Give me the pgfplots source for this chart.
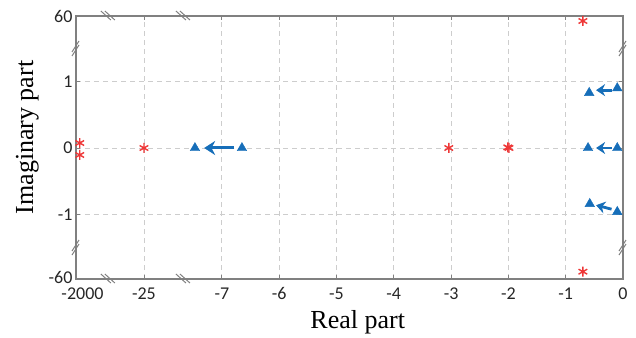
\documentclass[border=0pt]{standalone}
\usepackage{pgfplots}
\pgfplotsset{compat=1.18}
\usepackage{fontspec}
\setmainfont{Liberation Serif}
\newfontfamily\tickfont{Carlito}
\usetikzlibrary{arrows.meta}
\definecolor{myblue}{RGB}{22,110,185}
\definecolor{myred}{RGB}{238,55,55}
\definecolor{axgray}{RGB}{128,128,128}
\definecolor{gridgray}{RGB}{205,205,205}
\begin{document}
\begin{tikzpicture}
\begin{axis}[
  at={(0,0)}, anchor=south west,
  scale only axis, width=547pt, height=263pt,
  xmin=-9.546, xmax=0, ymin=-1.97, ymax=1.985,
  xtick={-9.546,-8.36,-7,-6,-5,-4,-3,-2,-1,0},
  xticklabels={\hspace*{13pt}-2000,-25,-7,-6,-5,-4,-3,-2,-1,0},
  ytick={-1.97,-1,0,1,1.985},
  yticklabels={\raisebox{3pt}{-60},-1,0,1,60},
  grid=major,
  major grid style={gridgray, dash pattern=on 5pt off 4pt, line width=0.8pt},
  axis line style={axgray, line width=1.3pt},
  tick style={axgray, line width=0.8pt}, major tick length=4pt,
  tick align=inside,
  ticklabel style={font=\tickfont\fontsize{18}{18}\selectfont, text=black!85},
  xticklabel style={yshift=-5pt},
  xlabel={Real part}, ylabel={Imaginary part},
  label style={font=\fontsize{26}{26}\selectfont},
  xlabel style={at={(axis description cs:0.515,0)}, anchor=base, yshift=-49pt},
  ylabel style={at={(axis description cs:-0.0786,0.538)}, anchor=base},
  clip=false,
]
% poles (red asterisks)
\addplot[only marks, mark=asterisk, mark size=5pt, myred, line width=1.4pt]
  coordinates {(-9.48,0.075) (-9.48,-0.105) (-8.36,0) (-3.04,0) (-1.99,0) (-2.01,0.01) (-0.70,1.91) (-0.70,-1.86)};
% triangles (blue)
\addplot[only marks, mark=triangle*, mark size=5.5pt, myblue]
  coordinates {(-7.47,0) (-6.65,0) (-0.59,0.83) (-0.10,0.90) (-0.61,0) (-0.10,0) (-0.58,-0.84) (-0.10,-0.96)};
% arrows
\addplot[myblue, line width=3pt, -{Stealth[length=11pt,width=14pt]}] coordinates {(-6.78,0) (-7.31,0)};
\addplot[myblue, line width=2.8pt, -{Stealth[length=9pt,width=12pt]}] coordinates {(-0.20,0.87) (-0.47,0.87)};
\addplot[myblue, line width=2.8pt, -{Stealth[length=9pt,width=12pt]}] coordinates {(-0.20,0) (-0.47,0)};
\addplot[myblue, line width=2.8pt, -{Stealth[length=9pt,width=12pt]}] coordinates {(-0.20,-0.92) (-0.47,-0.86)};
% axis break marks
\draw[axgray, line width=1pt] ([shift={(-7pt,5pt)}]axis cs:-8.99,-1.97) -- ++(10pt,-9pt);
\draw[axgray, line width=1pt] ([shift={(-3pt,5pt)}]axis cs:-8.99,-1.97) -- ++(10pt,-9pt);
\draw[axgray, line width=1pt] ([shift={(-7pt,5pt)}]axis cs:-7.68,-1.97) -- ++(10pt,-9pt);
\draw[axgray, line width=1pt] ([shift={(-3pt,5pt)}]axis cs:-7.68,-1.97) -- ++(10pt,-9pt);
\draw[axgray, line width=1pt] ([shift={(-7pt,5pt)}]axis cs:-8.99,1.985) -- ++(10pt,-9pt);
\draw[axgray, line width=1pt] ([shift={(-3pt,5pt)}]axis cs:-8.99,1.985) -- ++(10pt,-9pt);
\draw[axgray, line width=1pt] ([shift={(-7pt,5pt)}]axis cs:-7.68,1.985) -- ++(10pt,-9pt);
\draw[axgray, line width=1pt] ([shift={(-3pt,5pt)}]axis cs:-7.68,1.985) -- ++(10pt,-9pt);
\draw[axgray, line width=1pt] ([shift={(-4pt,-8pt)}]axis cs:-9.546,1.504) -- ++(7pt,11pt);
\draw[axgray, line width=1pt] ([shift={(-4pt,-4pt)}]axis cs:-9.546,1.504) -- ++(7pt,11pt);
\draw[axgray, line width=1pt] ([shift={(-4pt,-8pt)}]axis cs:-9.546,-1.489) -- ++(7pt,11pt);
\draw[axgray, line width=1pt] ([shift={(-4pt,-4pt)}]axis cs:-9.546,-1.489) -- ++(7pt,11pt);
\draw[axgray, line width=1pt] ([shift={(-4pt,-8pt)}]axis cs:0,1.504) -- ++(7pt,11pt);
\draw[axgray, line width=1pt] ([shift={(-4pt,-4pt)}]axis cs:0,1.504) -- ++(7pt,11pt);
\draw[axgray, line width=1pt] ([shift={(-4pt,-8pt)}]axis cs:0,-1.489) -- ++(7pt,11pt);
\draw[axgray, line width=1pt] ([shift={(-4pt,-4pt)}]axis cs:0,-1.489) -- ++(7pt,11pt);
\end{axis}
\path (-76pt,-58pt) rectangle (560pt,279pt);
\end{tikzpicture}
\end{document}
